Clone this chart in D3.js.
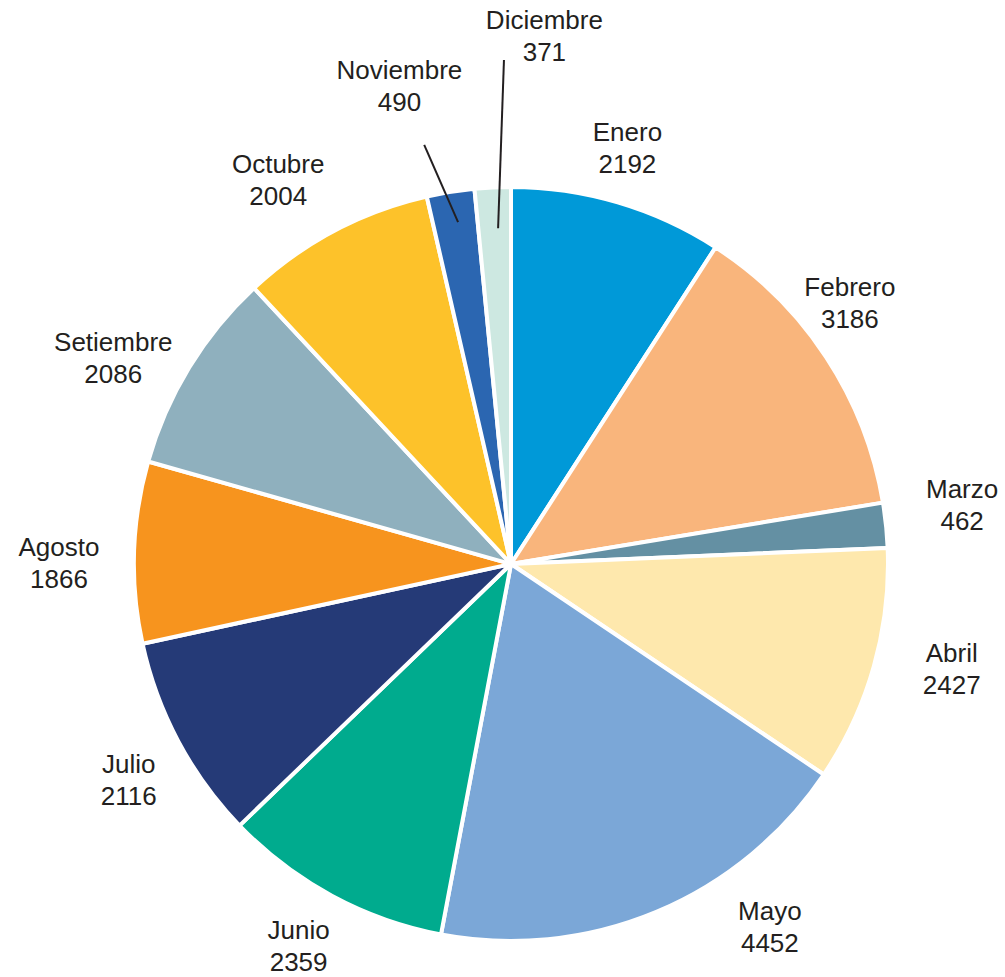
<!DOCTYPE html>
<html>
<head>
<meta charset="utf-8">
<script src="https://cdn.jsdelivr.net/npm/d3@7"></script>
<style>
  body { margin: 0; background: #fff; }
  text { font-family: "Liberation Sans", Arial, sans-serif; fill: #231f20; }
</style>
</head>
<body>
<svg id="pie" width="1005" height="977"></svg>
<script>
var months = ["Enero", "Febrero", "Marzo", "Abril", "Mayo", "Junio", "Julio", "Agosto", "Setiembre", "Octubre", "Noviembre", "Diciembre"];
var values = [2192, 3186, 462, 2427, 4452, 2359, 2116, 1866, 2086, 2004, 490, 371];
var colors = ["#0099d8", "#f9b57c", "#6490a3", "#fee8ad", "#7ba7d7", "#00ab8e", "#253a77", "#f7941e", "#8fb0be", "#fdc22a", "#2b66b1", "#cde8e1"];

// label placement tweaks: angle offset (deg) from slice middle, radius, optional leader line
var labelTweak = {
  Enero: {da: -0.8, r: 432},
  Febrero: {da: -4.4, r: 428},
  Marzo: {da: -1.6, r: 455},
  Abril: {da: -2.4, r: 453},
  Mayo: {da: -12.8, r: 446},
  Junio: {da: 0.7, r: 437},
  Julio: {da: -1.4, r: 439},
  Agosto: {da: -1.7, r: 452},
  Setiembre: {da: -4, r: 448},
  Octubre: {da: -3.3, r: 449},
  Noviembre: {da: -3.9, r: 491, line: [348.3, 428, 351.2, 346]},
  Diciembre: {da: 6.4, r: 529, line: [359.2, 504, 357.8, 336]}
};

var svg = d3.select("#pie"),
    cx = 511, cy = 564, radius = 377,
    g = svg.append("g").attr("transform", "translate(" + cx + "," + cy + ")");

var data = months.map(function(m, i) { return {month: m, value: values[i], color: colors[i]}; });

var pie = d3.pie().sort(null).value(function(d) { return d.value; });
var arc = d3.arc().innerRadius(0).outerRadius(radius);
var arcs = pie(data);

g.selectAll("path")
    .data(arcs)
  .enter().append("path")
    .attr("d", arc)
    .attr("fill", function(d) { return d.data.color; })
    .attr("stroke", "#fff")
    .attr("stroke-width", 4)
    .attr("stroke-linejoin", "round");

function polar(deg, r) {
  var a = deg * Math.PI / 180;
  return [r * Math.sin(a), -r * Math.cos(a)];
}

// leader lines
arcs.forEach(function(d) {
  var t = labelTweak[d.data.month];
  if (t && t.line) {
    var p0 = polar(t.line[0], t.line[1]), p1 = polar(t.line[2], t.line[3]);
    g.append("line")
      .attr("x1", p0[0]).attr("y1", p0[1])
      .attr("x2", p1[0]).attr("y2", p1[1])
      .attr("stroke", "#231f20")
      .attr("stroke-width", 2);
  }
});

var labels = g.selectAll(".label")
    .data(arcs)
  .enter().append("g")
    .attr("class", "label")
    .attr("transform", function(d) {
      var t = labelTweak[d.data.month] || {};
      var mid = (d.startAngle + d.endAngle) / 2 * 180 / Math.PI + (t.da || 0);
      var p = polar(mid, t.r || 445);
      return "translate(" + p[0] + "," + p[1] + ")";
    });

labels.append("text")
    .attr("text-anchor", "middle")
    .attr("y", -16)
    .attr("dy", "0.35em")
    .style("font-size", "26px")
    .text(function(d) { return d.data.month; });

labels.append("text")
    .attr("text-anchor", "middle")
    .attr("y", 16)
    .attr("dy", "0.35em")
    .style("font-size", "26px")
    .text(function(d) { return d.data.value; });
</script>
</body>
</html>
